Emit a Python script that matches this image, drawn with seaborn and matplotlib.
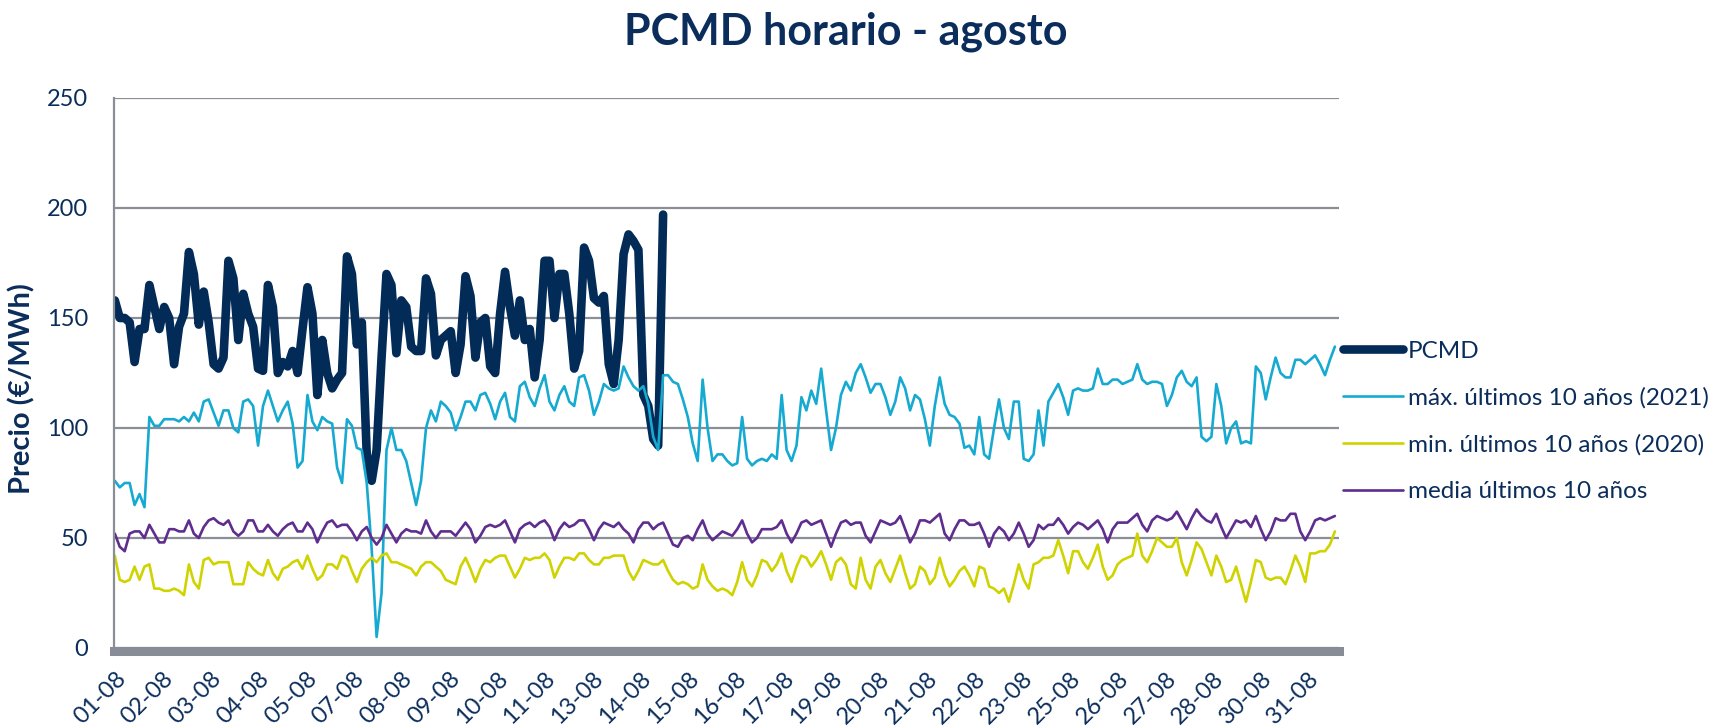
import numpy as np
import pandas as pd
import matplotlib
matplotlib.use("Agg")
import matplotlib.pyplot as plt
import seaborn as sns

# ---------------- data (values read every 3 hours, 1-31 August) ----------------
step_hours = 3

pcmd = [
    158, 150, 150, 148, 130, 145, 145, 165,
    155, 145, 155, 150, 129, 146, 152, 180,
    170, 147, 162, 148, 129, 127, 132, 176,
    168, 140, 161, 152, 146, 127, 126, 165,
    155, 125, 130, 128, 135, 125, 145, 164,
    152, 115, 140, 125, 118, 122, 125, 178,
    170, 138, 148, 88, 76, 90, 132, 170,
    165, 134, 158, 155, 137, 135, 135, 168,
    161, 133, 140, 142, 144, 125, 138, 169,
    160, 132, 148, 150, 128, 125, 152, 171,
    155, 142, 158, 140, 145, 123, 140, 176,
    176, 150, 170, 170, 152, 127, 135, 182,
    176, 159, 157, 160, 129, 120, 140, 179,
    188, 185, 181, 115, 110, 95, 92, 197,
]

max_2021 = [
    76, 73, 75, 75, 65, 70, 64, 105,
    101, 101, 104, 104, 104, 103, 105, 103,
    107, 103, 112, 113, 107, 101, 108, 108,
    100, 98, 112, 113, 110, 92, 110, 117,
    110, 103, 108, 112, 102, 82, 85, 115,
    103, 99, 105, 103, 102, 82, 75, 104,
    101, 91, 90, 75, 45, 5, 25, 90,
    100, 90, 90, 85, 75, 65, 76, 100,
    108, 103, 112, 110, 107, 99, 105, 112,
    112, 108, 115, 116, 111, 104, 112, 116,
    105, 103, 119, 121, 114, 110, 118, 124,
    112, 108, 115, 119, 112, 110, 123, 124,
    117, 106, 112, 120, 118, 117, 118, 128,
    123, 119, 117, 119, 111, 96, 90, 124,
    124, 121, 120, 113, 105, 93, 85, 122,
    100, 85, 88, 88, 85, 83, 84, 105,
    86, 83, 85, 86, 85, 88, 86, 115,
    90, 85, 92, 114, 108, 117, 111, 127,
    108, 90, 100, 115, 121, 117, 125, 129,
    123, 116, 120, 120, 114, 106, 112, 123,
    118, 108, 115, 113, 104, 92, 110, 123,
    111, 106, 105, 102, 91, 92, 88, 105,
    88, 86, 100, 113, 100, 95, 112, 112,
    86, 85, 88, 108, 92, 112, 116, 120,
    114, 106, 117, 118, 117, 117, 118, 127,
    120, 120, 122, 122, 120, 121, 122, 129,
    122, 120, 121, 121, 120, 110, 115, 123,
    126, 121, 119, 123, 96, 94, 96, 120,
    110, 93, 100, 103, 93, 94, 93, 128,
    125, 113, 123, 132, 125, 123, 123, 131,
    131, 129, 131, 133, 129, 124, 131, 137,
]

min_2020 = [
    42, 31, 30, 31, 37, 31, 37, 38,
    27, 27, 26, 26, 27, 26, 24, 38,
    30, 27, 40, 41, 38, 39, 39, 39,
    29, 29, 29, 39, 36, 34, 33, 40,
    34, 31, 36, 37, 39, 40, 36, 42,
    36, 31, 33, 38, 38, 36, 42, 41,
    35, 30, 36, 39, 41, 39, 42, 43,
    39, 39, 38, 37, 36, 33, 37, 39,
    39, 37, 35, 31, 30, 29, 37, 41,
    36, 30, 36, 40, 39, 41, 42, 42,
    37, 32, 36, 41, 40, 41, 41, 43,
    40, 32, 37, 41, 41, 40, 43, 43,
    40, 38, 38, 41, 41, 42, 42, 42,
    35, 31, 35, 40, 39, 38, 38, 40,
    35, 31, 29, 30, 29, 27, 28, 38,
    31, 28, 26, 27, 26, 24, 30, 39,
    31, 28, 33, 40, 39, 35, 38, 43,
    35, 30, 37, 42, 41, 37, 40, 44,
    38, 31, 39, 41, 38, 29, 27, 41,
    31, 27, 37, 40, 34, 30, 36, 42,
    34, 27, 29, 37, 35, 29, 32, 41,
    33, 28, 31, 35, 37, 33, 28, 37,
    36, 28, 27, 25, 27, 21, 29, 38,
    31, 27, 38, 39, 41, 41, 42, 49,
    42, 34, 44, 44, 39, 36, 41, 47,
    37, 31, 33, 38, 40, 41, 42, 52,
    42, 39, 44, 50, 48, 46, 46, 50,
    39, 33, 40, 48, 45, 39, 33, 42,
    37, 30, 31, 37, 29, 21, 30, 40,
    39, 32, 31, 32, 32, 29, 35, 42,
    37, 30, 43, 43, 44, 44, 47, 53,
]

media = [
    52, 46, 44, 52, 53, 53, 50, 56,
    52, 48, 48, 54, 54, 53, 53, 58,
    52, 50, 55, 58, 59, 57, 56, 58,
    53, 51, 53, 58, 58, 53, 53, 56,
    53, 51, 54, 56, 57, 53, 53, 57,
    54, 48, 53, 57, 58, 55, 56, 56,
    53, 49, 53, 55, 50, 47, 50, 56,
    52, 48, 52, 54, 53, 53, 52, 58,
    53, 50, 53, 53, 53, 51, 54, 57,
    54, 48, 51, 55, 56, 55, 56, 58,
    53, 48, 54, 56, 57, 55, 57, 58,
    55, 49, 54, 57, 55, 56, 58, 58,
    54, 49, 54, 57, 56, 55, 57, 54,
    52, 48, 54, 57, 57, 54, 56, 57,
    52, 47, 46, 50, 51, 49, 54, 58,
    52, 49, 51, 53, 52, 51, 54, 58,
    52, 48, 50, 54, 54, 54, 55, 58,
    52, 48, 52, 57, 58, 56, 57, 58,
    52, 46, 52, 57, 58, 56, 57, 57,
    51, 48, 53, 58, 57, 56, 57, 60,
    54, 48, 52, 58, 58, 57, 59, 61,
    52, 49, 54, 58, 58, 56, 56, 57,
    52, 46, 52, 55, 53, 49, 52, 57,
    52, 46, 49, 56, 54, 56, 56, 59,
    56, 52, 55, 57, 56, 54, 56, 58,
    54, 48, 54, 57, 57, 57, 59, 61,
    56, 53, 58, 60, 59, 58, 59, 62,
    58, 54, 59, 63, 60, 58, 57, 61,
    55, 50, 54, 58, 57, 58, 55, 60,
    54, 49, 53, 59, 58, 58, 61, 61,
    53, 49, 53, 58, 59, 58, 59, 60,
]

tick_labels = ["01-08", "02-08", "03-08", "04-08", "05-08", "07-08", "08-08",
               "09-08", "10-08", "11-08", "13-08", "14-08", "15-08", "16-08",
               "17-08", "19-08", "20-08", "21-08", "22-08", "23-08", "25-08",
               "26-08", "27-08", "28-08", "30-08", "31-08"]

series_names = ["PCMD", "máx. últimos 10 años (2021)",
                "min. últimos 10 años (2020)", "media últimos 10 años"]

# ---------------- style ----------------
sns.set_style("white")
plt.rcParams["font.family"] = ["Lato", "DejaVu Sans"]

navy_text = "#0B2D5B"
grid_col = "#8A8E97"
colors = ["#032B57", "#16AAD1", "#CFD300", "#5E2D8E"]
widths = [6.2, 1.9, 1.9, 1.9]

n_hours = 24 * 31

frames = []
for name, vals in zip(series_names, [pcmd, max_2021, min_2020, media]):
    hrs = np.arange(len(vals)) * step_hours + 0.5
    frames.append(pd.DataFrame({"hora": hrs, "precio": vals, "serie": name}))

fig = plt.figure(figsize=(17.15, 7.26), dpi=100)
ax = fig.add_axes([114 / 1715, 1 - 648 / 726, 1225 / 1715, 550 / 726])

for df, col, lw, name in zip(frames, colors, widths, series_names):
    sns.lineplot(data=df, x="hora", y="precio", ax=ax, color=col, lw=lw,
                 label=name, solid_capstyle="round", solid_joinstyle="round")

ax.set_xlim(0, n_hours)
ax.set_ylim(0, 250)
ax.set_yticks([0, 50, 100, 150, 200, 250])
ax.yaxis.grid(True, color=grid_col, lw=1.6)
ax.xaxis.grid(False)
ax.set_axisbelow(True)

tick_pos = np.arange(0, n_hours, 29)[:len(tick_labels)] + 0.5
ax.set_xticks(tick_pos)
ax.set_xticklabels(tick_labels)

for s in ["top", "right"]:
    ax.spines[s].set_visible(False)
ax.spines["left"].set_color(grid_col)
ax.spines["left"].set_linewidth(1.6)
ax.spines["bottom"].set_color("#878C96")
ax.spines["bottom"].set_linewidth(6.5)
ax.spines["bottom"].set_position(("outward", 2.5))

ax.set_xlabel("")
ax.set_ylabel("Precio (€/MWh)", fontsize=21, fontweight="bold", color=navy_text)
ax.yaxis.set_label_coords(-0.064, 0.472)

ax.tick_params(axis="y", direction="out", length=6.5, width=1.3, color=grid_col,
               labelcolor=navy_text, labelsize=17, pad=12)
ax.tick_params(axis="x", length=0, pad=12, labelsize=17, labelcolor=navy_text,
               labelrotation=45)
for lbl in ax.get_xticklabels():
    lbl.set_horizontalalignment("right")
    lbl.set_verticalalignment("top")
    lbl.set_rotation_mode("anchor")

fig.text(846 / 1715, 1 - 45 / 726, "PCMD horario - agosto", ha="center", va="baseline",
         fontsize=31, fontweight="bold", color=navy_text)

leg = ax.legend(loc="center left", bbox_to_anchor=(0.9953, 0.412), frameon=False,
                fontsize=17.5, handlelength=2.47, handletextpad=0.2,
                labelspacing=1.05, borderaxespad=0.0)
for t in leg.get_texts():
    t.set_color(navy_text)

fig.savefig("out.png", dpi=100)
